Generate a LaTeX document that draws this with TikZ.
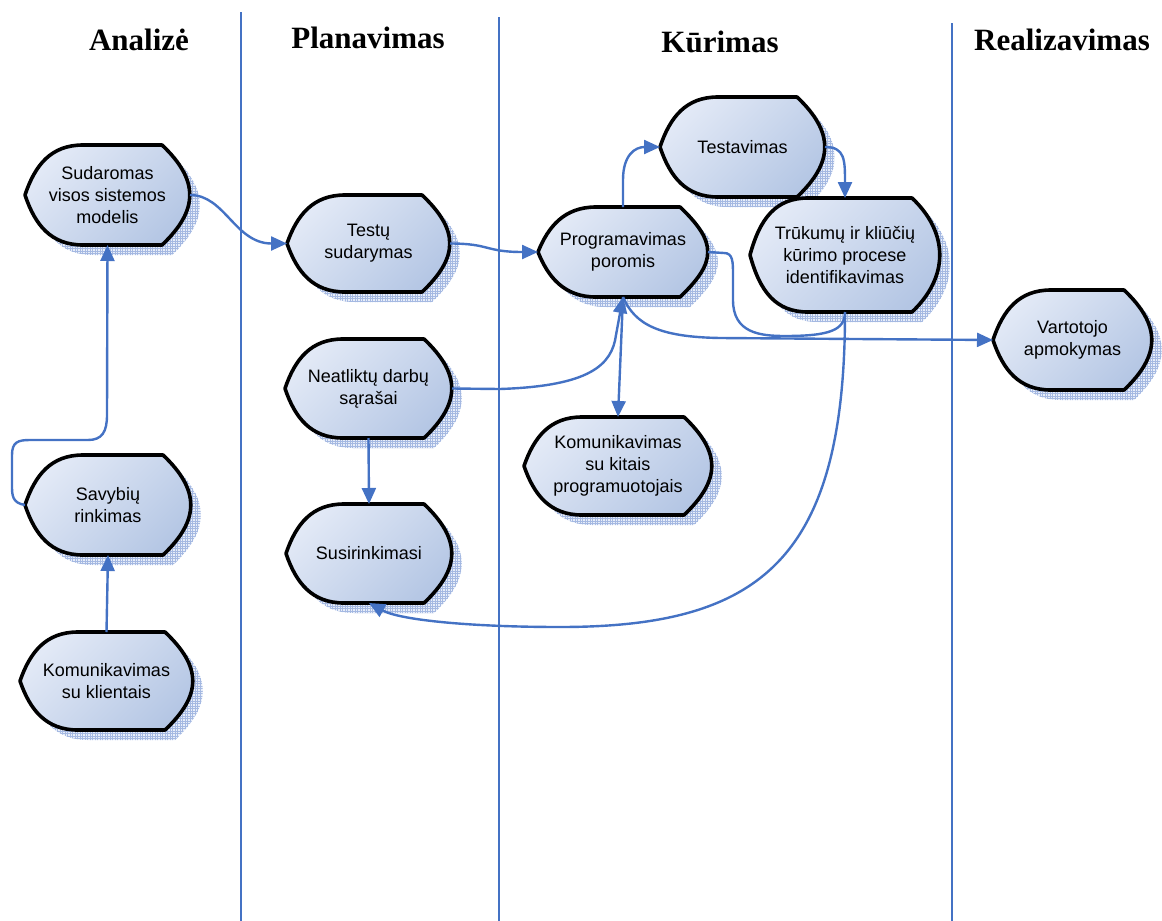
\documentclass[tikz,border=0pt]{standalone}
\usepackage{fontspec}
\setmainfont{Liberation Serif}
\newfontfamily\labelfont{Liberation Sans}
\usetikzlibrary{arrows.meta,patterns,patterns.meta,calc,backgrounds}

\definecolor{linkblue}{RGB}{68,114,196}
\definecolor{shadelight}{RGB}{226,233,246}
\definecolor{shadedark}{RGB}{180,198,228}
\definecolor{shadowbase}{RGB}{232,238,249}
\definecolor{shadowgrid}{RGB}{165,185,226}

% fine mesh used for the drop shadows
\tikzdeclarepattern{
  name=shadowmesh,
  type=uncolored,
  bounding box={(-0.5pt,-0.5pt) and (2.5pt,2.5pt)},
  tile size={(2.5pt,2.5pt)},
  code={
    \pgfsetlinewidth{0.8pt}
    \pgfpathmoveto{\pgfqpoint{-0.5pt}{0pt}}\pgfpathlineto{\pgfqpoint{2.5pt}{0pt}}
    \pgfpathmoveto{\pgfqpoint{0pt}{-0.5pt}}\pgfpathlineto{\pgfqpoint{0pt}{2.5pt}}
    \pgfusepath{stroke}
  }
}

% "display" outline around a named node: pointed left, bulging right
% #1 node, #2 path style, #3 shift right, #4 shift down
\newcommand\displaypath[4]{%
  \path[#2] let \p1=(#1.north west), \p2=(#1.south east), \p3=(#1.west) in
    (\x1+#3,\y3-#4)
    .. controls (\x1+10pt+#3,\y1-20pt-#4) and (\x1+26pt+#3,\y1-#4) .. (\x1+58pt+#3,\y1-#4)
    -- (\x2-28pt+#3,\y1-#4)
    .. controls (\x2+9pt+#3,\y1-35pt-#4) and (\x2+9pt+#3,\y2+35pt-#4) .. (\x2-28pt+#3,\y2-#4)
    -- (\x1+58pt+#3,\y2-#4)
    .. controls (\x1+26pt+#3,\y2-#4) and (\x1+10pt+#3,\y2+20pt-#4) .. (\x1+#3,\y3-#4) -- cycle;}

\tikzset{
  proc/.style={rectangle, inner sep=0pt, outer sep=0pt, align=center,
    font=\labelfont\fontsize{18}{22}\selectfont},
  proc body/.style={draw=black, line width=3.6pt, line join=round,
    top color=shadelight, bottom color=shadedark, shading angle=45},
  proc shadow/.style={fill=shadowbase},
  proc mesh/.style={pattern=shadowmesh, pattern color=shadowgrid},
  link/.style={draw=linkblue, line width=2.4pt, -{Triangle[length=16pt,width=14pt]}},
  plain link/.style={draw=linkblue, line width=2.4pt},
  lane/.style={draw=linkblue, line width=2.2pt},
  phase/.style={font=\bfseries\fontsize{31}{36}\selectfont},
}

\begin{document}
\begin{tikzpicture}[x=1pt, y=-1pt]
\useasboundingbox (0,0) rectangle (1162,921);

% swimlane separators
\draw[lane] (241,12) -- (241,921);
\draw[lane] (499,17) -- (499,921);
\draw[lane] (952,23) -- (952,921);

% phase headings
\node[phase] (h1) at (139,40) {Analizė};
\node[phase] (h2) at (368,38) {Planavimas};
\node[phase] (h3) at (720,42) {Kūrimas};
\node[phase] (h4) at (1062,40) {Realizavimas};

% process steps
\node[proc, minimum width=165pt, minimum height=100pt] (sud) at (107.5,195) {Sudaromas\\visos sistemos\\modelis};
\node[proc, minimum width=166pt, minimum height=100pt] (sav) at (108,505) {Savybių\\rinkimas};
\node[proc, minimum width=173pt, minimum height=98pt] (kkl) at (106.5,681) {Komunikavimas\\su klientais};
\node[proc, minimum width=163pt, minimum height=97pt] (tst) at (368.5,243.5) {Testų\\sudarymas};
\node[proc, minimum width=167pt, minimum height=99pt] (nea) at (368.5,388.5) {Neatliktų darbų\\sąrašai};
\node[proc, minimum width=166pt, minimum height=99pt] (sus) at (369,553.5) {Susirinkimasi};
\node[proc, minimum width=170pt, minimum height=90pt] (prg) at (623,252) {Programavimas\\poromis};
\node[proc, minimum width=165pt, minimum height=100pt] (tes) at (742.5,147) {Testavimas};
\node[proc, minimum width=190pt, minimum height=114pt] (tru) at (845,255) {Trūkumų ir kliūčių\\kūrimo procese\\identifikavimas};
\node[proc, minimum width=188pt, minimum height=98pt] (kkp) at (618,466) {Komunikavimas\\su kitais\\programuotojais};
\node[proc, minimum width=159pt, minimum height=100pt] (var) at (1072.5,340) {Vartotojo\\apmokymas};

% outlines and shadows behind the labels
\begin{pgfonlayer}{background}
  \foreach \nd in {sud,sav,kkl,tst,nea,sus,prg,tes,tru,kkp,var}{
    \displaypath{\nd}{proc shadow}{10pt}{10pt}
    \displaypath{\nd}{proc mesh}{10pt}{10pt}
  }
  \foreach \nd in {sud,sav,kkl,tst,nea,sus,prg,tes,tru,kkp,var}{
    \displaypath{\nd}{proc body}{0pt}{0pt}
  }
\end{pgfonlayer}

% connectors
\draw[link] (kkl.north) -- (sav.south);
\draw[link] (sav.west) .. controls (12,503) and (12,495) .. (12,485) -- (12,455)
  .. controls (12,442) and (18,440) .. (30,440) -- (88,440)
  .. controls (102,440) and (107,432) .. (107,415) -- (sud.south);
\draw[link] (sud.east) .. controls (225,195) and (235,243.5) .. (tst.west);
\draw[link] (tst.east) .. controls (490,243.5) and (485,252) .. (prg.west);
\draw[link] (prg.north) -- (623,180) .. controls (623,155) and (635,147) .. (tes.west);
\draw[link] (tes.east) .. controls (845,147) and (845,160) .. (tru.north);
\draw[plain link] (prg.east) -- (724,253) .. controls (733,253) and (733,262) .. (733,275) -- (733,300)
  .. controls (733,333) and (760,336) .. (785,336) .. controls (830,336) and (845,330) .. (tru.south);
\draw[link] (prg.south) .. controls (635,325) and (660,337) .. (720,338) -- (var.west);
\draw[link] (nea.east) -- (500,389) .. controls (590,386) and (612,365) .. (616,335) -- (prg.south);
\draw[link] (prg.south) -- (kkp.north);
\draw[link] (nea.south) -- (sus.north);
\draw[link] (tru.south) .. controls (845,560) and (760,627) .. (560,627)
  .. controls (470,627) and (400,620) .. (sus.south);
\end{tikzpicture}
\end{document}
